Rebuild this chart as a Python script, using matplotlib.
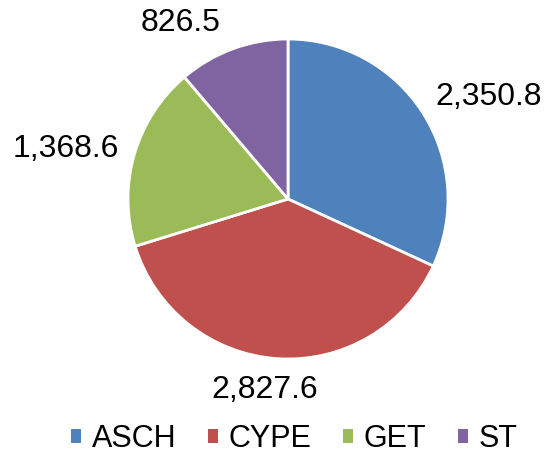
import numpy as np
import matplotlib
matplotlib.use('Agg')
import matplotlib.pyplot as plt

plt.rcParams['font.family'] = ['Liberation Sans', 'DejaVu Sans']

# Data
categories = ['ASCH', 'CYPE', 'GET', 'ST']
values = [2350.8, 2827.6, 1368.6, 826.5]
colors = ['#4F81BD', '#C0504D', '#9BBB59', '#8064A2']

# small pixel nudges for the data labels (Excel "best fit" placement)
label_nudge = [(-1, -8), (-11, 0), (0, 1), (-7, -4)]

fig = plt.figure(figsize=(5.5, 4.55), dpi=100)

# axes centred on the pie (pixel centre ~ (288, 199), radius ~156 px)
R_PX = 156.0
CX, CY = 288, 199
ax = fig.add_axes([(CX - 200) / 550, (455 - CY - 200) / 455, 400 / 550, 400 / 455])
lim = 200 / R_PX
ax.set_xlim(-lim, lim)
ax.set_ylim(-lim, lim)
ax.set_aspect('equal')
ax.axis('off')

wedges, _ = ax.pie(values, colors=colors, startangle=90, counterclock=False,
                   radius=1.0, wedgeprops=dict(edgecolor='white', linewidth=2))

# outside-end data labels
total = float(sum(values))
start = 90.0
for v, (dx, dy) in zip(values, label_nudge):
    span = 360.0 * v / total
    mid = np.deg2rad(start - span / 2)
    start -= span
    c, s = np.cos(mid), np.sin(mid)
    x, y = 1.1 * c + dx / R_PX, 1.1 * s + dy / R_PX
    ha = 'left' if c > 0.3 else ('right' if c < -0.3 else 'center')
    va = 'bottom' if s > 0.5 else ('top' if s < -0.5 else 'center')
    ax.text(x, y, f"{v:,.1f}", ha=ha, va=va, fontsize=23, color='black',
            clip_on=False)

leg = fig.legend(wedges, categories, loc='center', bbox_to_anchor=(0.535, 0.035),
                 ncol=4, frameon=False, fontsize=22, handlelength=0.33,
                 handleheight=0.33, handletextpad=0.36, columnspacing=1.02,
                 borderaxespad=0, borderpad=0)
for h in leg.legend_handles:
    h.set_edgecolor('none')

fig.savefig('out.png', dpi=100)
plt.close(fig)
